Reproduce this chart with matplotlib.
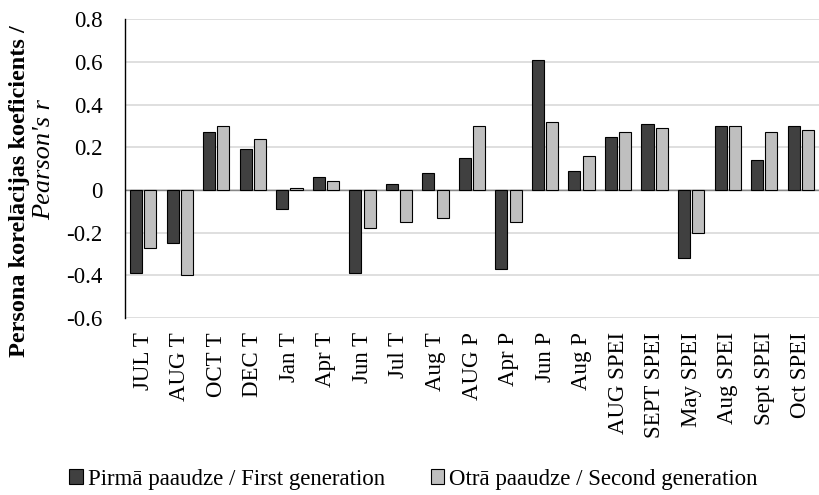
import matplotlib.pyplot as plt
import numpy as np
from matplotlib.patches import Patch

plt.rcParams["font.family"] = ["Liberation Serif", "DejaVu Serif"]

categories = [
    "JUL T", "AUG T", "OCT T", "DEC T", "Jan T", "Apr T", "Jun T", "Jul T",
    "Aug T", "AUG P", "Apr P", "Jun P", "Aug P", "AUG SPEI", "SEPT SPEI",
    "May SPEI", "Aug SPEI", "Sept SPEI", "Oct SPEI",
]
first_gen = [-0.39, -0.25, 0.27, 0.19, -0.09, 0.06, -0.39, 0.03, 0.08, 0.15,
             -0.37, 0.61, 0.09, 0.25, 0.31, -0.32, 0.30, 0.14, 0.30]
second_gen = [-0.27, -0.40, 0.30, 0.24, 0.01, 0.04, -0.18, -0.15, -0.13, 0.30,
              -0.15, 0.32, 0.16, 0.27, 0.29, -0.20, 0.30, 0.27, 0.28]
yticks = [-0.6, -0.4, -0.2, 0, 0.2, 0.4, 0.6, 0.8]

label_first = "Pirmā paaudze / First generation"
label_second = "Otrā paaudze / Second generation"
dark = "#404040"
light = "#bfbfbf"
fs = 16.5

fig = plt.figure(figsize=(8.19, 4.95), dpi=100)
ax = fig.add_axes([125 / 819, 1 - 318 / 495, 1 - 125 / 819, (318 - 19.3) / 495])

x = np.arange(len(categories))
w = 0.33
ax.bar(x - 0.195, first_gen, w, color=dark, edgecolor="black", linewidth=0.8, zorder=3)
ax.bar(x + 0.195, second_gen, w, color=light, edgecolor="black", linewidth=0.8, zorder=3)

ax.set_xlim(-0.5, len(categories) - 0.5)
ax.set_ylim(-0.6, 0.8)
ax.set_yticks(yticks)
ax.set_yticklabels([f"{t:g}" for t in yticks], fontsize=fs)
ax.yaxis.grid(True, color="#d9d9d9", linewidth=1.2, zorder=0)
ax.axhline(0, color="#868686", linewidth=1.0, zorder=2)

ax.set_xticks(x)
ax.set_xticklabels(categories, rotation=90, fontsize=fs, va="top")
ax.tick_params(axis="both", length=0)
ax.tick_params(axis="x", pad=10)
ax.tick_params(axis="y", pad=16)

for side in ("top", "right", "bottom"):
    ax.spines[side].set_visible(False)
ax.spines["left"].set_color("black")
ax.spines["left"].set_linewidth(1.0)

fig.text(20 / 819, 1 - 191 / 495, "Persona korelācijas koeficients /",
         rotation=90, ha="center", va="center", fontsize=17.5, fontweight="bold")
fig.text(44 / 819, 1 - 160 / 495, "Pearson's r",
         rotation=90, ha="center", va="center", fontsize=19, fontstyle="italic")

handles = [
    Patch(facecolor=dark, edgecolor="black", linewidth=0.8),
    Patch(facecolor=light, edgecolor="black", linewidth=0.8),
]
fig.legend(handles, [label_first, label_second], loc="center left",
           bbox_to_anchor=(58 / 819, 1 - 479 / 495), ncol=2, frameon=False,
           prop={"family": "Liberation Serif", "size": fs},
           handlelength=0.6, handleheight=0.6, handletextpad=0.2,
           columnspacing=2.0, borderpad=0)

fig.savefig("out.png", dpi=100)
